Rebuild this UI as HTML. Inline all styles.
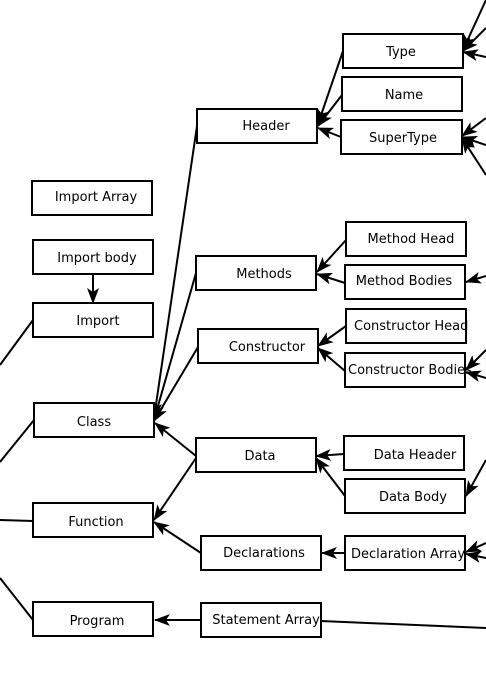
<!DOCTYPE html>
<html><head><meta charset="utf-8"><style>
html,body{margin:0;padding:0;background:#fff;width:486px;height:674px;overflow:hidden}
svg text{font-family:"DejaVu Sans","Liberation Sans",sans-serif;font-size:13px;fill:#000}
</style></head><body>
<svg width="486" height="674" viewBox="0 0 486 674" xmlns="http://www.w3.org/2000/svg">
<defs>
<marker id="a" viewBox="0 0 16 12" refX="15" refY="6" markerWidth="16" markerHeight="12" markerUnits="userSpaceOnUse" orient="auto">
<path d="M0,0 L16,6 L0,12 L4,6 z" fill="#000"/>
</marker>
</defs>
<g stroke="#000" stroke-width="2" fill="none">
<line x1="343" y1="51" x2="318" y2="124" marker-end="url(#a)"/>
<line x1="342" y1="95" x2="318" y2="126" marker-end="url(#a)"/>
<line x1="341" y1="137" x2="318" y2="128" marker-end="url(#a)"/>
<line x1="197" y1="126" x2="154" y2="418" marker-end="url(#a)"/>
<line x1="196" y1="273" x2="154" y2="420" marker-end="url(#a)"/>
<line x1="198" y1="347" x2="154" y2="421" marker-end="url(#a)"/>
<line x1="196" y1="456" x2="155" y2="423" marker-end="url(#a)"/>
<line x1="196" y1="458" x2="154" y2="520" marker-end="url(#a)"/>
<line x1="201" y1="553" x2="154" y2="522" marker-end="url(#a)"/>
<line x1="346" y1="240" x2="317" y2="272" marker-end="url(#a)"/>
<line x1="345" y1="283" x2="317" y2="274" marker-end="url(#a)"/>
<line x1="346" y1="326" x2="318" y2="346" marker-end="url(#a)"/>
<line x1="345" y1="371" x2="318" y2="348" marker-end="url(#a)"/>
<line x1="344" y1="454" x2="316" y2="456" marker-end="url(#a)"/>
<line x1="345" y1="496" x2="316" y2="458" marker-end="url(#a)"/>
<line x1="345" y1="553" x2="322" y2="553" marker-end="url(#a)"/>
<line x1="201" y1="620" x2="155" y2="620" marker-end="url(#a)"/>
<line x1="93" y1="274" x2="93" y2="303" marker-end="url(#a)"/>
<line x1="321" y1="621" x2="486" y2="628"/>
<line x1="33" y1="320" x2="0" y2="365"/>
<line x1="34" y1="420" x2="0" y2="462"/>
<line x1="33" y1="521" x2="0" y2="520"/>
<line x1="33" y1="620" x2="0" y2="578"/>
<line x1="486" y1="0" x2="463" y2="50" marker-end="url(#a)"/>
<line x1="486" y1="28" x2="463" y2="51" marker-end="url(#a)"/>
<line x1="486" y1="57" x2="463" y2="52" marker-end="url(#a)"/>
<line x1="486" y1="118" x2="462" y2="136" marker-end="url(#a)"/>
<line x1="486" y1="145" x2="462" y2="137" marker-end="url(#a)"/>
<line x1="486" y1="175" x2="462" y2="138" marker-end="url(#a)"/>
<line x1="486" y1="276" x2="466" y2="282" marker-end="url(#a)"/>
<line x1="486" y1="350" x2="466" y2="370" marker-end="url(#a)"/>
<line x1="486" y1="378" x2="466" y2="372" marker-end="url(#a)"/>
<line x1="486" y1="460" x2="466" y2="496" marker-end="url(#a)"/>
<line x1="486" y1="543" x2="466" y2="552" marker-end="url(#a)"/>
<line x1="486" y1="558" x2="466" y2="554" marker-end="url(#a)"/>
</g>
<g stroke="#000" stroke-width="2" fill="#fff">
<rect x="343" y="34" width="120" height="34"/>
<rect x="342" y="77" width="120" height="34"/>
<rect x="341" y="120" width="121" height="34"/>
<rect x="197" y="109" width="120" height="34"/>
<rect x="32" y="181" width="120" height="34"/>
<rect x="33" y="240" width="120" height="34"/>
<rect x="33" y="303" width="120" height="34"/>
<rect x="196" y="256" width="120" height="34"/>
<rect x="346" y="222" width="120" height="34"/>
<rect x="345" y="265" width="120" height="34"/>
<rect x="198" y="329" width="120" height="34"/>
<rect x="34" y="403" width="120" height="34"/>
<rect x="196" y="438" width="120" height="34"/>
<rect x="344" y="436" width="120" height="34"/>
<rect x="345" y="479" width="120" height="34"/>
<rect x="33" y="503" width="120" height="34"/>
<rect x="201" y="536" width="120" height="34"/>
<rect x="345" y="536" width="120" height="34"/>
<rect x="33" y="602" width="120" height="34"/>
<rect x="201" y="603" width="120" height="34"/>
</g>
<g text-anchor="middle">
<text x="401" y="56">Type</text>
<text x="404" y="99">Name</text>
<text x="403" y="142">SuperType</text>
<text x="266" y="130">Header</text>
<text x="96" y="201">Import Array</text>
<text x="97" y="262">Import body</text>
<text x="98" y="325">Import</text>
<text x="264" y="278">Methods</text>
<text x="411" y="243">Method Head</text>
<text x="404" y="285">Method Bodies</text>
<text x="267" y="351">Constructor</text>
<text x="94" y="426">Class</text>
<text x="260" y="460">Data</text>
<text x="415" y="459">Data Header</text>
<text x="413" y="501">Data Body</text>
<text x="96" y="526">Function</text>
<text x="264" y="557">Declarations</text>
<text x="97" y="625">Program</text>
<text x="266" y="624">Statement Array</text>
</g>
<text x="354" y="330">Constructor Head</text>
<text x="348" y="374">Constructor Bodies</text>
<text x="351" y="558">Declaration Array</text>
<g stroke="#000" stroke-width="2" fill="none">
<line x1="466" y1="309" x2="466" y2="343"/>
<line x1="465" y1="353" x2="465" y2="387"/>
<rect x="346" y="309" width="120" height="34"/>
<rect x="345" y="353" width="120" height="34"/>
</g>
</svg>
</body></html>
